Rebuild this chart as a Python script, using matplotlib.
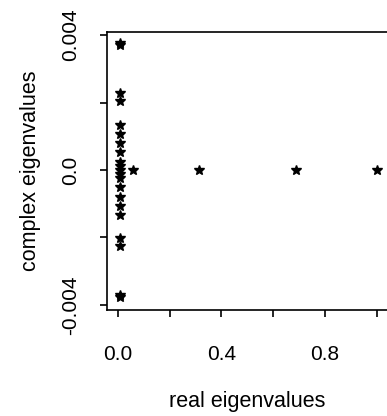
import matplotlib
matplotlib.use('Agg')
import matplotlib.pyplot as plt
import numpy as np

plt.rcParams['font.family'] = ['Liberation Sans', 'DejaVu Sans']

# eigenvalues near zero real part (conjugate pairs)
near_re = 0.008
near_im = [0.00376, 0.00370, 0.00227, 0.00204, 0.00133, 0.00107, 0.0008,
           0.00053, 0.00024, 0.00012, 0.0, -0.00012, -0.00024, -0.0005,
           -0.0008, -0.00107, -0.00133, -0.00201, -0.00225, -0.00370, -0.00376]
# purely real eigenvalues
real_only = [0.058, 0.313, 0.69, 1.0]

x_ticks = [0.0, 0.2, 0.4, 0.6, 0.8, 1.0]
x_labels = ['0.0', '', '0.4', '', '0.8', '']
y_ticks = [-0.004, -0.002, 0.0, 0.002, 0.004]
y_labels = ['-0.004', '', '0.0', '', '0.004']

W, H = 387, 416
fig = plt.figure(figsize=(W / 100, H / 100), dpi=100)
ax = fig.add_axes([107 / W, 1 - 310 / H, (387 - 107) / W, (310 - 32) / H])

xs = np.concatenate([np.full(len(near_im), near_re), real_only])
ys = np.concatenate([near_im, np.zeros(len(real_only))])
ax.plot(xs, ys, linestyle='none', marker='*', markersize=7, color='black')

ax.set_xlim(-0.0426, 1.0406)
ax.set_ylim(-0.00415, 0.00409)
ax.set_xticks(x_ticks)
ax.set_xticklabels(x_labels)
ax.set_yticks(y_ticks)
ax.set_yticklabels(y_labels, rotation=90, va='center')

ax.spines['right'].set_visible(False)
for s in ax.spines.values():
    s.set_linewidth(1.2)
ax.tick_params(direction='out', length=5, width=1.2, labelsize=15)
ax.tick_params(axis='x', pad=20)
ax.tick_params(axis='y', pad=14)

ax.set_xlabel('real eigenvalues', fontsize=15.5, labelpad=20)
ax.set_ylabel('complex eigenvalues', fontsize=15.5, labelpad=15)

fig.savefig('out.png', dpi=100)
